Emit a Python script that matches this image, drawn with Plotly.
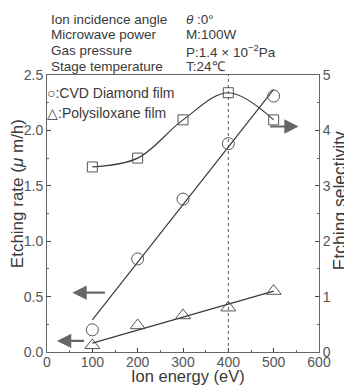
import plotly.graph_objects as go

energy = [100, 200, 300, 400, 500]
cvd_rate = [0.20, 0.84, 1.38, 1.88, 2.31]
poly_rate = [0.06, 0.24, 0.33, 0.40, 0.55]
selectivity = [3.34, 3.50, 4.19, 4.68, 4.19]
cvd_fit_x = [100, 500]
cvd_fit_y = [0.29, 2.37]
poly_fit_x = [100, 500]
poly_fit_y = [0.08, 0.55]

C = "#3a3a3a"
G = "#555555"
FONT = "Liberation Sans, Arial, sans-serif"

fig = go.Figure()
fig.add_trace(go.Scatter(x=cvd_fit_x, y=cvd_fit_y, mode="lines", line=dict(color=C, width=1.2)))
fig.add_trace(go.Scatter(x=poly_fit_x, y=poly_fit_y, mode="lines", line=dict(color=C, width=1.2)))
fig.add_trace(go.Scatter(x=energy, y=cvd_rate, mode="markers",
                         marker=dict(symbol="circle-open", size=12, color=G, line=dict(width=1))))
fig.add_trace(go.Scatter(x=energy, y=poly_rate, mode="markers",
                         marker=dict(symbol="triangle-up-open", size=13, color=G, line=dict(width=1))))
fig.add_trace(go.Scatter(x=energy, y=selectivity, mode="lines+markers", yaxis="y2",
                         line=dict(color=C, width=1.2, shape="spline", smoothing=1.0),
                         marker=dict(symbol="square-open", size=10, color=G, line=dict(width=1))))

fig.add_shape(type="line", x0=400, x1=400, y0=0, y1=1, xref="x", yref="paper",
              line=dict(color=G, width=1, dash="dot"))

ann = []
header = [("Ion incidence angle", "<i>θ</i> :0°"),
          ("Microwave power", "M:100W"),
          ("Gas pressure", "P:1.4 × 10<sup>−2</sup>Pa"),
          ("Stage temperature", "T:24℃")]
ys = [1.202, 1.148, 1.087, 1.032]
for (a, b), yy in zip(header, ys):
    ann.append(dict(text=a, x=0.008, y=yy, xref="paper", yref="paper", showarrow=False,
                    xanchor="left", yanchor="middle", font=dict(size=13.5, color=C, family=FONT)))
    ann.append(dict(text=b, x=0.503, y=yy, xref="paper", yref="paper", showarrow=False,
                    xanchor="left", yanchor="middle", font=dict(size=13.5, color=C, family=FONT)))

ann.append(dict(text="○:CVD Diamond film", x=-0.006, y=0.935, xref="paper", yref="paper", showarrow=False,
                xanchor="left", yanchor="middle", font=dict(size=14, color=C, family=FONT)))
ann.append(dict(text="△:Polysiloxane film", x=-0.006, y=0.862, xref="paper", yref="paper", showarrow=False,
                xanchor="left", yanchor="middle", font=dict(size=14, color=C, family=FONT)))

# axis titles
ann.append(dict(text="Ion energy (eV)", x=0.52, y=-0.086, xref="paper", yref="paper", showarrow=False,
                xanchor="center", yanchor="middle", font=dict(size=16.5, color=C, family=FONT)))
ann.append(dict(text="Etching rate (<i>μ</i> m/h)", x=-0.108, y=0.572, xref="paper", yref="paper",
                showarrow=False, textangle=-90, xanchor="center", yanchor="middle",
                font=dict(size=17, color=C, family=FONT)))
ann.append(dict(text="Etching selectivity", x=1.078, y=0.545, xref="paper", yref="paper",
                showarrow=False, textangle=-90, xanchor="center", yanchor="middle",
                font=dict(size=17.5, color=C, family=FONT)))

for (x0, x1, yy, yr) in [(131, 56, 0.535, "y"), (85, 22, 0.10, "y"), (489, 555, 4.07, "y2")]:
    ann.append(dict(x=x1, y=yy, ax=x0, ay=yy, xref="x", yref=yr, axref="x", ayref=yr,
                    showarrow=True, arrowhead=2, arrowsize=1.3, arrowwidth=2.2, arrowcolor="#666666",
                    text=""))

# page body has an 8px default margin, so the figure is drawn 8px right/down
fig.update_layout(
    width=344, height=377,
    margin=dict(l=39, r=33, t=67, b=33, autoexpand=False),
    paper_bgcolor="white", plot_bgcolor="white",
    showlegend=False,
    font=dict(family=FONT, color=C, size=13),
    annotations=ann,
    xaxis=dict(range=[0, 600], dtick=100, ticks="inside", ticklen=4, showline=True, linecolor="#666",
               linewidth=1, mirror=True, showgrid=False, zeroline=False, automargin=False,
               tickfont=dict(size=14, color="#555"), ticklabelstandoff=-3,
               minor=dict(dtick=50, ticks="inside", ticklen=2, tickcolor="#666")),
    yaxis=dict(range=[0, 2.5], dtick=0.5, tickformat=".1f", ticks="inside", ticklen=4, showline=True,
               linecolor="#666", linewidth=1, showgrid=False, zeroline=False, automargin=False,
               tickfont=dict(size=14, color="#555"),
               minor=dict(dtick=0.25, ticks="inside", ticklen=2, tickcolor="#666")),
    yaxis2=dict(range=[0, 5], dtick=1, overlaying="y", side="right", ticks="inside", ticklen=4,
                showline=True, linecolor="#666", linewidth=1, showgrid=False, zeroline=False,
                automargin=False, tickfont=dict(size=14, color="#555"),
                minor=dict(dtick=0.5, ticks="inside", ticklen=2, tickcolor="#666")),
)

fig.write_html("out.html")
